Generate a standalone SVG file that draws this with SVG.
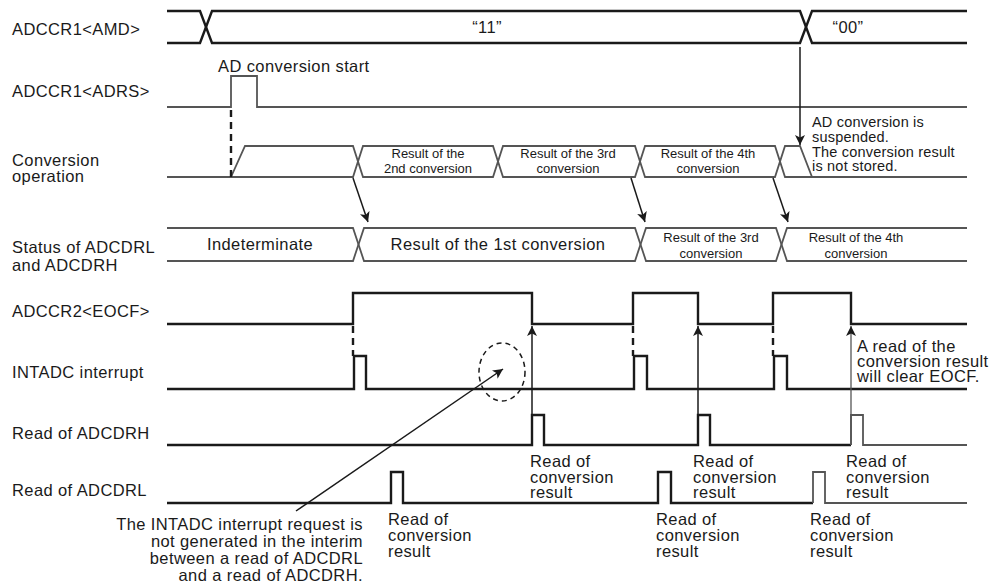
<svg xmlns="http://www.w3.org/2000/svg" width="995" height="588" viewBox="0 0 995 588">
<style>
text{font-family:"Liberation Sans",Arial,sans-serif;fill:#1a1a1a}
.lbl{font-size:16.5px;letter-spacing:0.4px}
.sm{font-size:13px;text-anchor:middle}
.note{font-size:14.5px;letter-spacing:0.2px}
.mid{text-anchor:middle}
.end{text-anchor:end}
.sig{fill:none;stroke:#1a1a1a;stroke-width:2.4;stroke-linejoin:miter}
.gry{fill:none;stroke:#555;stroke-width:1.8}
.dash{fill:none;stroke:#1a1a1a;stroke-width:2.4;stroke-dasharray:7,5}
.arr{fill:none;stroke:#1a1a1a;stroke-width:1.5}
</style>
<defs>
<marker id="ah" viewBox="0 0 10 10" refX="10" refY="5" markerWidth="10" markerHeight="10" markerUnits="userSpaceOnUse" orient="auto">
<path d="M0,0 L10,5 L0,10 L2.5,5 Z" fill="#1a1a1a"/>
</marker>
</defs>
<rect width="995" height="588" fill="#fff"/>

<g id="amd">
<text class="lbl" x="12" y="35">ADCCR1&lt;AMD&gt;</text>
<path class="sig" d="M167,11 L200,11 L212,43 L800,43 L812,11 L967,11"/>
<path class="sig" d="M167,43 L200,43 L212,11 L800,11 L812,43 L967,43"/>
<text class="lbl mid" x="487" y="33">“11”</text>
<text class="lbl mid" x="848" y="33">“00”</text>
</g>

<g id="adrs">
<text class="lbl" x="12" y="97">ADCCR1&lt;ADRS&gt;</text>
<text class="lbl" x="218" y="72">AD conversion start</text>
<path class="gry" d="M167,107 L231,107 L231,76 L257,76 L257,107 L967,107"/>
</g>

<g id="conv">
<text class="lbl" x="12" y="166">Conversion</text>
<text class="lbl" x="12" y="182">operation</text>
<path class="gry" d="M167,177 L353,177 L363,146 L493,146 L503,177 L635,177 L645,146 L775,146 L785,177 L967,177"/>
<path class="gry" d="M231,177 L245,146 L353,146 L363,177 L493,177 L503,146 L635,146 L645,177 L775,177 L785,146 L800,146 L812,177"/>
<text class="sm" x="428" y="158">Result of the</text>
<text class="sm" x="428" y="173">2nd conversion</text>
<text class="sm" x="568" y="158">Result of the 3rd</text>
<text class="sm" x="568" y="173">conversion</text>
<text class="sm" x="708" y="158">Result of the 4th</text>
<text class="sm" x="708" y="173">conversion</text>
<text class="note" x="812" y="127">AD conversion is</text>
<text class="note" x="812" y="142">suspended.</text>
<text class="note" x="812" y="157">The conversion result</text>
<text class="note" x="812" y="171">is not stored.</text>
</g>

<g id="status">
<text class="lbl" x="12" y="253">Status of ADCDRL</text>
<text class="lbl" x="12" y="271">and ADCDRH</text>
<path class="gry" d="M167,228 L353,228 L364,261 L635,261 L646,228 L776,228 L787,261 L967,261"/>
<path class="gry" d="M167,261 L353,261 L364,228 L635,228 L646,261 L776,261 L787,228 L967,228"/>
<text class="lbl mid" x="260" y="250">Indeterminate</text>
<text class="lbl mid" x="498" y="250">Result of the 1st conversion</text>
<text class="sm" x="711" y="242">Result of the 3rd</text>
<text class="sm" x="711" y="258">conversion</text>
<text class="sm" x="856" y="242">Result of the 4th</text>
<text class="sm" x="856" y="258">conversion</text>
</g>

<g id="eocf">
<text class="lbl" x="12" y="317">ADCCR2&lt;EOCF&gt;</text>
<path class="sig" d="M167,324 L353,324 L353,293 L532,293 L532,324 L633,324 L633,293 L698,293 L698,324 L773,324 L773,293 L851,293 L851,324 L967,324"/>
<text class="lbl" x="857" y="352">A read of the</text>
<text class="lbl" x="857" y="367">conversion result</text>
<text class="lbl" x="857" y="382">will clear EOCF.</text>
</g>

<g id="intadc">
<text class="lbl" x="12" y="378">INTADC interrupt</text>
<path class="sig" d="M167,389 L354,389 L354,356 L366,356 L366,389 L634,389 L634,356 L647,356 L647,389 L774,389 L774,356 L787,356 L787,389 L967,389"/>
</g>

<g id="adcdrh">
<text class="lbl" x="12" y="439">Read of ADCDRH</text>
<path class="sig" d="M167,445 L532,445 L532,415 L544,415 L544,445 L698,445 L698,415 L710,415 L710,445 L851,445"/>
<path class="gry" d="M851,445 L851,415 L863,415 L863,445 L967,445"/>
<text class="lbl" x="530" y="467">Read of</text>
<text class="lbl" x="530" y="483">conversion</text>
<text class="lbl" x="530" y="498">result</text>
<text class="lbl" x="693" y="467">Read of</text>
<text class="lbl" x="693" y="483">conversion</text>
<text class="lbl" x="693" y="498">result</text>
<text class="lbl" x="846" y="467">Read of</text>
<text class="lbl" x="846" y="483">conversion</text>
<text class="lbl" x="846" y="498">result</text>
</g>

<g id="adcdrl">
<text class="lbl" x="12" y="496">Read of ADCDRL</text>
<path class="sig" d="M167,503 L391,503 L391,472 L403,472 L403,503 L658,503 L658,472 L671,472 L671,503 L813,503"/>
<path class="gry" d="M813,503 L813,472 L825,472 L825,503 L967,503"/>
<text class="lbl" x="388" y="525">Read of</text>
<text class="lbl" x="388" y="541">conversion</text>
<text class="lbl" x="388" y="557">result</text>
<text class="lbl" x="656" y="525">Read of</text>
<text class="lbl" x="656" y="541">conversion</text>
<text class="lbl" x="656" y="557">result</text>
<text class="lbl" x="810" y="525">Read of</text>
<text class="lbl" x="810" y="541">conversion</text>
<text class="lbl" x="810" y="557">result</text>
</g>

<g id="note-intadc">
<ellipse cx="502" cy="372" rx="23" ry="29" fill="none" stroke="#1a1a1a" stroke-width="1.5" stroke-dasharray="5,4"/>
<text class="lbl end" x="363" y="530">The INTADC interrupt request is</text>
<text class="lbl end" x="363" y="547">not generated in the interim</text>
<text class="lbl end" x="363" y="564">between a read of ADCDRL</text>
<text class="lbl end" x="363" y="581">and a read of ADCDRH.</text>
</g>

<g id="connectors">
<line class="dash" x1="231" y1="110" x2="231" y2="177"/>
<line class="dash" x1="353" y1="326" x2="353" y2="356"/>
<line class="dash" x1="633" y1="326" x2="633" y2="356"/>
<line class="dash" x1="773" y1="326" x2="773" y2="356"/>
<line class="arr" x1="800" y1="47" x2="800" y2="145" marker-end="url(#ah)"/>
<line class="arr" x1="353" y1="178" x2="368" y2="222" marker-end="url(#ah)"/>
<line class="arr" x1="631" y1="178" x2="645" y2="222" marker-end="url(#ah)"/>
<line class="arr" x1="773" y1="178" x2="788" y2="222" marker-end="url(#ah)"/>
<line class="arr" x1="532" y1="445" x2="532" y2="326" marker-end="url(#ah)"/>
<line class="arr" x1="698" y1="445" x2="698" y2="326" marker-end="url(#ah)"/>
<line x1="851" y1="445" x2="851" y2="326" stroke="#555" stroke-width="1.3" marker-end="url(#ah)"/>
<line class="arr" x1="296" y1="511" x2="503" y2="369" marker-end="url(#ah)"/>
</g>
</svg>
